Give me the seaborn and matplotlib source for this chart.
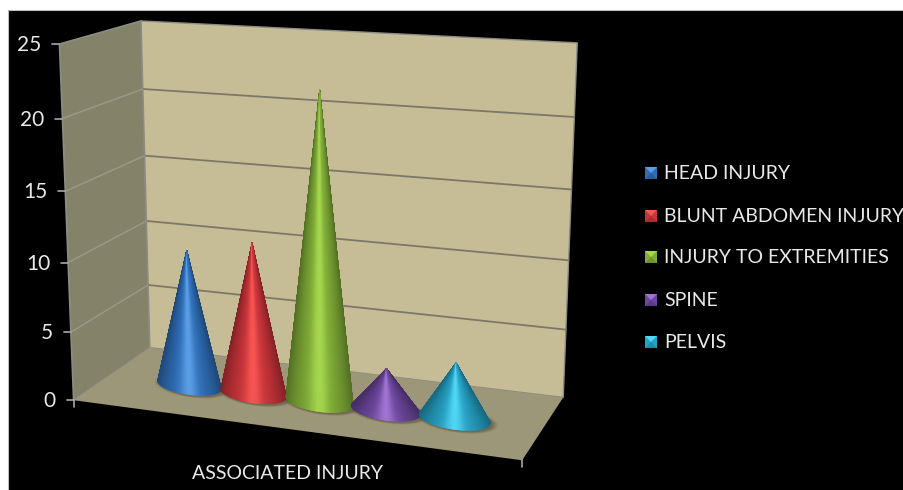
import numpy as np
import pandas as pd
import matplotlib
matplotlib.use("Agg")
import matplotlib.pyplot as plt
from matplotlib.collections import PolyCollection
from matplotlib.patches import Polygon, Rectangle
import seaborn as sns

# Chart data
injuries = ["HEAD INJURY", "BLUNT ABDOMEN INJURY", "INJURY TO EXTREMITIES", "SPINE", "PELVIS"]
counts = [10, 11, 22, 3, 4]
value_ticks = [0, 5, 10, 15, 20, 25]
category_label = "ASSOCIATED INJURY"
cone_colors = ["#2f6fb8", "#c9343a", "#7fab37", "#6d479f", "#25a3c7"]
cone_highlights = ["#5a9fe8", "#f85552", "#a6d84e", "#a074d4", "#50d8f6"]

WIDTH, HEIGHT = 904, 490
WALL = "#c6bd96"
SIDE = "#85826a"
FLOOR = "#9c9779"
EDGE = "#8c8c86"
GRID = "#7d7768"
SIDE_GRID = "#9b9a8a"
TEXT = "#e9e9e9"

# Camera fitted to where the plot box sits on the canvas:
# (across, depth, value) -> canvas pixel
anchors = [
    (0, 0, 0, 75, 401), (1, 0, 0, 522, 460), (1, 1, 0, 563, 398), (0, 1, 0, 149, 347),
    (0, 0, 5, 71, 332), (0, 0, 10, 67, 262), (0, 0, 15, 65, 192), (0, 0, 20, 62, 118), (0, 0, 25, 60, 44),
    (0, 1, 5, 148, 285), (0, 1, 10, 147, 221), (0, 1, 15, 145, 156), (0, 1, 20, 143, 89), (0, 1, 25, 141, 21),
    (1, 1, 5, 566, 329), (1, 1, 10, 569, 261), (1, 1, 15, 572, 189), (1, 1, 20, 574, 117), (1, 1, 25, 577, 43),
]
rows, rhs = [], []
for a, d, val, px, py in anchors:
    w = val / 25
    rows.append([a, d, w, 1, 0, 0, 0, 0, -a * px, -d * px, -w * px])
    rhs.append(px)
    rows.append([0, 0, 0, 0, a, d, w, 1, -a * py, -d * py, -w * py])
    rhs.append(py)
camera = np.append(np.linalg.lstsq(np.array(rows, float), np.array(rhs, float), rcond=None)[0], 1).reshape(3, 4)


def project(across, depth, value):
    h = camera @ np.array([across, depth, value / 25, 1.0])
    return h[:2] / h[2]


sns.set_theme(style="white")
plt.rcParams["font.family"] = ["Lato", "DejaVu Sans"]
palette = sns.color_palette(cone_colors)
highlights = sns.color_palette(cone_highlights)

fig = plt.figure(figsize=(WIDTH / 100, HEIGHT / 100), dpi=100, facecolor="white")
ax = fig.add_axes([0, 0, 1, 1])
ax.set_xlim(0, WIDTH)
ax.set_ylim(HEIGHT, 0)
ax.axis("off")
ax.add_patch(Rectangle((8, 10), WIDTH, HEIGHT, fc="black", ec="#bdbdbd", lw=0.8, zorder=0))

# Walls and floor
corners = lambda pts: [project(*p) for p in pts]
ax.add_patch(Polygon(corners([(0, 0, 0), (0, 1, 0), (0, 1, 25), (0, 0, 25)]), fc=SIDE, ec=EDGE, lw=1.2, zorder=1))
ax.add_patch(Polygon(corners([(0, 1, 0), (1, 1, 0), (1, 1, 25), (0, 1, 25)]), fc=WALL, ec=EDGE, lw=1.0, zorder=1))
ax.add_patch(Polygon(corners([(0, 0, 0), (1, 0, 0), (1, 1, 0), (0, 1, 0)]), fc=FLOOR, ec="none", zorder=2))

# Gridlines across the back and side walls
grid_rows, side_rows = [], []
for val in value_ticks[1:-1]:
    for a in (0, 1):
        x, y = project(a, 1, val)
        grid_rows.append({"x": x, "y": y, "level": val})
    for d in (0, 1):
        x, y = project(0, d, val)
        side_rows.append({"x": x, "y": y, "level": val})
sns.lineplot(data=pd.DataFrame(grid_rows), x="x", y="y", units="level", estimator=None, sort=False,
             color=GRID, lw=1.3, ax=ax, zorder=3)
sns.lineplot(data=pd.DataFrame(side_rows), x="x", y="y", units="level", estimator=None, sort=False,
             color=SIDE_GRID, lw=1.0, ax=ax, zorder=3)
ax.set_xlim(0, WIDTH)
ax.set_ylim(HEIGHT, 0)

# Value axis ticks and labels, category axis ticks and title
for val in value_ticks:
    x, y = project(0, 0, val)
    ax.plot([x - 7, x], [y, y], color="#a8a8a8", lw=1.2, zorder=3)
    ax.text(x - 18, y + 1, str(val), color=TEXT, fontsize=15, ha="right", va="center", zorder=6)
for a in (0, 1):
    x, y = project(a, 0, 0)
    ax.plot([x, x], [y, y + 7], color="#a8a8a8", lw=1.2, zorder=3)
ax.text(288, 473, category_label, color=TEXT, fontsize=14, ha="center", va="center", zorder=6)

# One cone per series, spread evenly across the single category
slots = np.array([0.197, 0.352, 0.507, 0.659, 0.812])
mid_depth = 0.46
radius = 0.078
flatness = 0.30
angles = np.linspace(0, 2 * np.pi, 241)


def ellipse_points(centre, major, minor, theta):
    return centre + np.outer(np.cos(theta), major) + np.outer(np.sin(theta), minor)


for slot, value, base_col, light_col in zip(slots, counts, palette, highlights):
    centre = project(slot, mid_depth, 0)
    tip = project(slot, mid_depth, value)
    major = (project(slot + radius, mid_depth, 0) - project(slot - radius, mid_depth, 0)) / 2
    minor = np.array([0.0, flatness * np.linalg.norm(major)])

    # soft contact shadow on the floor
    for grow, alpha in zip((1.16, 1.11, 1.07, 1.03), (0.10, 0.14, 0.18, 0.25)):
        ring = ellipse_points(centre + np.array([2, 1.5]), major * grow, minor * grow, angles)
        ax.add_patch(Polygon(ring, fc="#4f4630", ec="none", alpha=alpha, zorder=4))

    rim = ellipse_points(centre, major, minor, angles)
    facets, shades = [], []
    base_rgb, light_rgb = np.array(base_col), np.array(light_col)
    half = np.linalg.norm(major)
    for i in range(len(rim) - 1):
        facets.append([tip, rim[i], rim[i + 1]])
        s = ((rim[i][0] + rim[i + 1][0]) / 2 - centre[0]) / half
        glow = np.exp(-(s / 0.28) ** 2)
        dark = 1 - 0.36 * np.abs(s) ** 2.4
        shades.append(np.clip(base_rgb * dark + (light_rgb - base_rgb) * glow, 0, 1))
    order = np.argsort([(f[1][1] + f[2][1]) / 2 for f in facets])
    facets = [facets[i] for i in order]
    shades = [shades[i] for i in order]
    ax.add_collection(PolyCollection(facets, facecolors=shades, edgecolors=shades, linewidths=0.4, zorder=5))

# Legend with bevelled swatches
legend_rows = [173, 216, 257, 300, 342]
swatch = 6
for y, name, base_col, light_col in zip(legend_rows, injuries, palette, highlights):
    cx = 651
    base_rgb, light_rgb = np.array(base_col), np.array(light_col)
    mid = (cx, y)
    tl, tr = (cx - swatch, y - swatch), (cx + swatch, y - swatch)
    bl, br = (cx - swatch, y + swatch), (cx + swatch, y + swatch)
    ax.add_patch(Polygon([tl, tr, br, bl], fc=base_rgb, ec="none", zorder=5))
    ax.add_patch(Polygon([tl, tr, mid], fc=light_rgb, ec="none", zorder=5))
    ax.add_patch(Polygon([bl, br, mid], fc=base_rgb * 0.85, ec="none", zorder=5))
    ax.text(664, y, name, color=TEXT, fontsize=14, ha="left", va="center", zorder=6)

fig.savefig("out.png", dpi=100, facecolor=fig.get_facecolor())
